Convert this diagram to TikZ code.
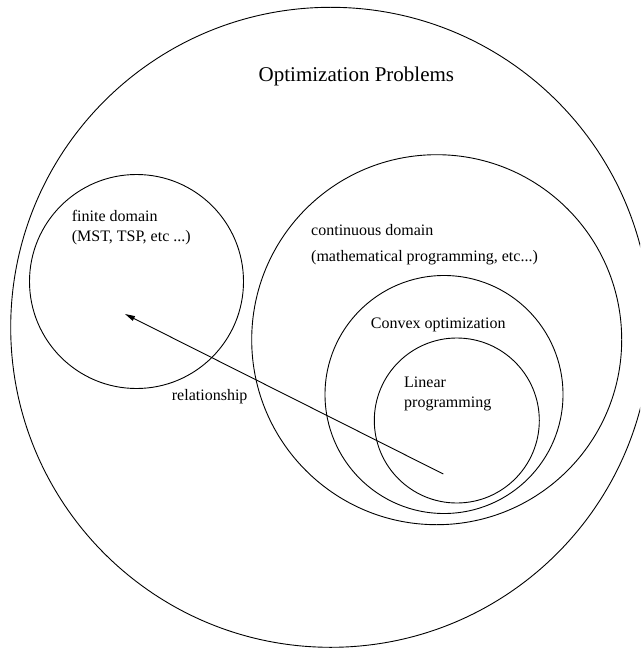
\documentclass[tikz,border=0pt]{standalone}
\usepackage{fontspec}
\setmainfont{Liberation Serif}
\usetikzlibrary{arrows.meta}

\begin{document}
\begin{tikzpicture}[x=1pt,y=-1pt]
% Diagram style
\tikzset{
    venn/.style={line width=0.9pt},
    settext/.style={anchor=base west, inner sep=0pt, font=\fontsize{16}{19}\selectfont},
    relation/.style={line width=0.9pt, -{Triangle[length=10pt,width=5pt]}}
}

\useasboundingbox (0,0) rectangle (640,650);
\clip (0,0) rectangle (640,650);

% Sets
\coordinate (OPT) at (330.7,327.3);
\coordinate (FIN) at (136.5,281.5);
\coordinate (CONT) at (436.7,339.7);
\coordinate (CVX) at (444,394.5);
\coordinate (LP) at (456.8,420.5);

\draw[venn] (OPT) circle[radius=320pt];
\draw[venn] (FIN) circle[radius=107pt];
\draw[venn] (CONT) circle[radius=185pt];
\draw[venn] (CVX) circle[radius=119pt];
\draw[venn] (LP) circle[radius=82.5pt];

% Labels
\node[settext, font=\fontsize{21}{25}\selectfont] (OPTt) at (258.5,81.7) {Optimization Problems};
\node[settext] (FINa) at (71.7,221) {finite domain};
\node[settext] (FINb) at (71.7,241.7) {(MST, TSP, etc ...)};
\node[settext] (CONTa) at (311,235) {continuous domain};
\node[settext] (CONTb) at (311,261.7) {(mathematical programming, etc...)};
\node[settext] (CVXt) at (370.7,328.3) {Convex optimization};
\node[settext] (LPa) at (404,387.7) {Linear};
\node[settext] (LPb) at (404,407.7) {programming};

% Connection
\coordinate (RELa) at (443.3,474);
\coordinate (RELb) at (125,314);
\draw[relation] (RELa) -- (RELb);
\node[settext] (RELt) at (171.7,400.7) {relationship};

\end{tikzpicture}
\end{document}
